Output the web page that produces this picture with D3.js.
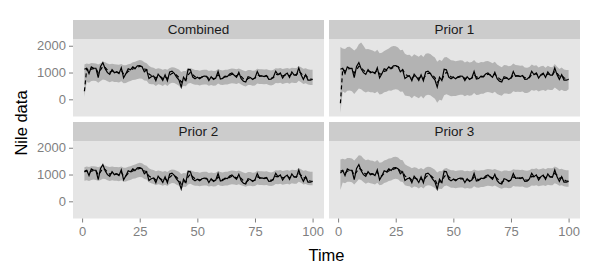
<!DOCTYPE html>
<html><head><meta charset="utf-8">
<script src="https://cdn.jsdelivr.net/npm/d3@7"></script>
<style>body{margin:0;background:#fff}svg{display:block}</style>
</head><body>
<script>
// ---- data ----
const panels = ["Combined", "Prior 1", "Prior 2", "Prior 3"];
const xTicks = [0, 25, 50, 75, 100];
const yTicks = [0, 1000, 2000];
// Nile annual flow, t = 1..100
const nile = [1120,1160,963,1210,1160,1160,813,1230,1370,1140,995,935,1110,994,1020,960,1180,799,958,1140,
1100,1210,1150,1250,1260,1220,1030,1100,774,840,874,694,940,833,701,916,692,1020,1050,969,
831,726,456,824,702,1120,1100,832,764,821,768,845,864,862,698,845,744,796,1040,759,
781,865,845,944,984,897,822,1010,771,676,649,846,812,742,801,1040,860,874,848,890,
744,749,838,1050,918,986,797,923,975,815,1020,906,901,1170,912,746,919,718,714,740];
// estimated level, t = 2..100 (shared), and value at t = 1 per panel
const estimate = [1140,1050,1130,1145,1150,980,1100,1230,1185,
1090,1010,1060,1030,1025,990,1085,940,950,1045,
1070,1140,1145,1195,1230,1225,1130,1115,945,890,
880,790,865,850,775,845,770,895,970,970,
900,815,635,730,715,915,1010,920,840,830,
800,820,840,850,775,810,777,786,913,836,
808,836,840,892,938,917,870,940,855,765,
707,776,794,768,785,912,886,880,864,877,
810,780,809,930,924,955,876,900,937,876,
948,927,914,1042,977,862,890,804,759,750];
const estStart = [300, -150, 1100, 1050];
// interval bounds, t = 1..100
const combinedUpper = [1300,1340,1320,1360,1350,1340,1300,1350,1400,1380,
1340,1310,1330,1310,1300,1290,1320,1270,1270,1310,
1330,1380,1400,1440,1470,1450,1380,1350,1250,1200,
1180,1130,1160,1140,1100,1130,1100,1170,1200,1190,
1150,1110,1020,1060,1060,1150,1170,1130,1090,1090,
1070,1090,1100,1100,1060,1080,1060,1070,1130,1090,
1080,1100,1100,1130,1150,1140,1120,1150,1110,1080,
1050,1090,1090,1070,1080,1140,1120,1120,1110,1120,
1090,1080,1100,1160,1150,1170,1130,1150,1170,1140,
1180,1170,1170,1240,1200,1140,1160,1120,1100,1100];
const combinedLower = [100,650,620,680,690,680,620,680,740,720,
670,640,670,650,650,630,670,600,610,660,
680,720,730,760,780,770,700,690,580,560,
560,500,560,540,500,560,500,580,620,610,
560,510,420,500,490,590,610,570,540,540,
520,540,550,550,510,530,510,520,590,540,
530,550,550,580,600,590,570,610,550,510,
480,530,530,510,520,590,570,570,560,570,
530,520,540,610,600,620,570,600,620,580,
630,610,610,690,640,570,600,550,530,530];
const prior1Upper = [1950,1900,1880,1950,1960,1900,1820,1900,2060,2120,
2000,1870,1880,1850,1820,1780,1850,1720,1740,1800,
1850,1900,1960,1990,1980,1930,1830,1850,1700,1650,
1660,1590,1680,1640,1590,1660,1580,1700,1720,1690,
1620,1560,1400,1480,1430,1560,1580,1520,1460,1450,
1420,1440,1460,1450,1370,1420,1370,1390,1470,1370,
1360,1390,1380,1420,1430,1390,1350,1400,1300,1240,
1200,1280,1270,1230,1250,1340,1280,1270,1250,1260,
1190,1180,1210,1300,1250,1270,1190,1230,1250,1180,
1250,1210,1200,1320,1220,1130,1190,1110,1090,1090];
const prior1Lower = [-510,300,240,320,330,300,200,300,400,380,
300,250,290,260,260,230,290,180,200,260,
280,330,320,360,380,360,280,290,140,120,
110,40,130,90,40,120,30,140,170,150,
90,20,-130,-20,-40,150,190,150,110,120,
120,150,170,170,110,160,130,150,240,160,
170,210,210,250,270,250,230,280,200,160,
130,220,220,200,220,300,270,280,270,290,
240,240,270,350,320,350,290,330,350,310,
370,350,350,440,380,310,360,310,310,380];
const prior2Upper = [1270,1300,1280,1310,1310,1300,1270,1310,1350,1340,
1300,1280,1300,1280,1280,1270,1300,1250,1250,1290,
1310,1350,1370,1410,1440,1420,1360,1330,1230,1190,
1170,1120,1150,1130,1100,1130,1090,1160,1190,1180,
1140,1100,1020,1060,1050,1150,1170,1120,1090,1090,
1070,1090,1100,1100,1060,1080,1060,1070,1130,1090,
1080,1100,1100,1130,1150,1140,1120,1150,1110,1080,
1050,1090,1090,1070,1080,1140,1120,1120,1110,1120,
1090,1080,1100,1160,1150,1170,1130,1150,1170,1140,
1180,1170,1170,1240,1200,1140,1160,1120,1100,1100];
const prior2Lower = [770,790,760,800,810,800,760,800,840,830,
790,760,790,770,770,750,790,730,740,780,
800,840,850,890,910,900,830,810,710,670,
650,600,640,620,580,620,570,650,680,670,
620,580,480,540,530,630,660,610,580,580,
560,580,590,590,550,570,550,560,620,580,
570,590,590,620,640,630,610,640,600,570,
540,580,580,560,570,630,610,610,600,610,
580,570,590,650,640,660,620,640,660,630,
670,660,660,730,690,630,650,610,600,600];
const prior3Upper = [1560,1590,1560,1620,1620,1600,1520,1620,1720,1700,
1600,1530,1560,1520,1510,1480,1540,1440,1460,1520,
1550,1600,1610,1650,1660,1640,1550,1530,1380,1330,
1290,1230,1270,1250,1200,1240,1190,1260,1290,1280,
1230,1180,1080,1130,1120,1220,1240,1200,1160,1160,
1130,1150,1160,1160,1120,1140,1120,1130,1190,1150,
1140,1160,1160,1190,1210,1200,1180,1210,1170,1140,
1110,1150,1150,1130,1140,1200,1180,1180,1170,1180,
1150,1140,1160,1220,1210,1230,1190,1210,1230,1200,
1240,1230,1230,1300,1260,1200,1220,1180,1160,1160];
const prior3Lower = [420,700,670,730,730,710,630,720,820,800,
720,660,700,670,660,630,690,600,620,680,
710,760,780,820,840,820,740,720,600,570,
560,500,550,530,480,540,480,570,600,590,
540,500,410,470,460,560,590,550,510,510,
490,510,520,520,480,500,480,490,560,520,
510,530,530,560,580,570,550,590,540,500,
470,510,510,490,500,570,550,550,540,550,
520,510,530,590,580,600,560,580,600,570,
620,600,600,670,640,580,600,560,540,540];

// ---- layout ----
const W = 600, H = 270;
const cols = [[73, 324], [329, 580]];
const rows = [{strip: 20, top: 39, bottom: 116.5}, {strip: 122, top: 141, bottom: 218.5}];
const uppers = [combinedUpper, prior1Upper, prior2Upper, prior3Upper];
const lowers = [combinedLower, prior1Lower, prior2Lower, prior3Lower];

const svg = d3.select("body").append("svg").attr("width", W).attr("height", H)
  .style("font-family", "'Liberation Sans', Arial, Helvetica, sans-serif");

const tVals = d3.range(1, nile.length + 1);
const xDom = d3.extent(tVals);
const xPad = (xDom[1] - xDom[0]) * 0.05;
const allY = [].concat(...uppers, ...lowers, nile, estimate, estStart);
const yDom = d3.extent(allY);
const yPad = (yDom[1] - yDom[0]) * 0.05;

panels.forEach((name, i) => {
  const c = cols[i % 2], r = rows[Math.floor(i / 2)];
  const x = d3.scaleLinear().domain([xDom[0] - xPad, xDom[1] + xPad]).range(c);
  const y = d3.scaleLinear().domain([yDom[0] - yPad, yDom[1] + yPad]).range([r.bottom, r.top]);
  const g = svg.append("g");
  // strip
  g.append("rect").attr("x", c[0]).attr("y", r.strip).attr("width", c[1] - c[0]).attr("height", r.top - r.strip).attr("fill", "#cccccc");
  g.append("text").attr("x", (c[0] + c[1]) / 2).attr("y", (r.strip + r.top) / 2).attr("dy", "0.35em")
    .attr("text-anchor", "middle").attr("font-size", 13.5).attr("fill", "#1a1a1a").text(name);
  // panel
  g.append("rect").attr("x", c[0]).attr("y", r.top).attr("width", c[1] - c[0]).attr("height", r.bottom - r.top).attr("fill", "#e5e5e5");
  // ribbon
  const rib = tVals.map((t, k) => ({t, lo: lowers[i][k], hi: uppers[i][k]}));
  g.append("path").datum(rib).attr("fill", "#b3b3b3")
    .attr("d", d3.area().x(d => x(d.t)).y0(d => y(d.lo)).y1(d => y(d.hi)));
  // estimate (dashed)
  const est = [estStart[i]].concat(estimate).map((v, k) => ({t: k + 1, v}));
  g.append("path").datum(est).attr("fill", "none").attr("stroke", "#000").attr("stroke-width", 1.2)
    .attr("stroke-dasharray", "4,3")
    .attr("d", d3.line().x(d => x(d.t)).y(d => y(d.v)));
  // data
  const dat = nile.map((v, k) => ({t: k + 1, v}));
  g.append("path").datum(dat).attr("fill", "none").attr("stroke", "#000").attr("stroke-width", 1.2)
    .attr("d", d3.line().x(d => x(d.t)).y(d => y(d.v)));
  // axes
  if (i % 2 === 0) {
    const ax = svg.append("g").attr("transform", `translate(${c[0]},0)`)
      .call(d3.axisLeft(y).tickValues(yTicks).tickSize(4).tickPadding(3).tickFormat(d3.format("d")));
    ax.select(".domain").remove();
    ax.selectAll("line").attr("stroke", "#7f7f7f");
    ax.selectAll("text").attr("fill", "#7f7f7f").attr("font-size", 13).attr("font-family", null);
  }
  if (i >= 2) {
    const ax = svg.append("g").attr("transform", `translate(0,${r.bottom})`)
      .call(d3.axisBottom(x).tickValues(xTicks).tickSize(4).tickPadding(4));
    ax.select(".domain").remove();
    ax.selectAll("line").attr("stroke", "#7f7f7f");
    ax.selectAll("text").attr("fill", "#7f7f7f").attr("font-size", 13).attr("font-family", null);
  }
});

svg.append("text").attr("x", (cols[0][0] + cols[1][1]) / 2).attr("y", 261)
  .attr("text-anchor", "middle").attr("font-size", 16.5).text("Time");
svg.append("text").attr("transform", "translate(27,123) rotate(-90)")
  .attr("text-anchor", "middle").attr("font-size", 16.5).text("Nile data");
</script>
</body></html>
